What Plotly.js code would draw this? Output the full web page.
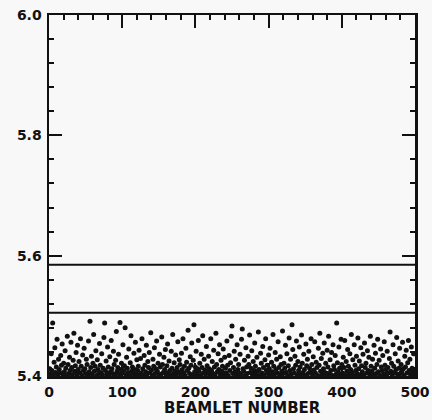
<!DOCTYPE html>
<html>
<head>
<meta charset="utf-8">
<script src="https://cdn.plot.ly/plotly-3.0.1.min.js"></script>
<style>
  html, body { margin: 0; padding: 0; background: #f8f8f8; }
  #chart { width: 432px; height: 420px; }
</style>
</head>
<body>
<div id="chart"></div>
<script>
// Measured value for each beamlet, in beamlet order (1..500)
const beamletValues = [
  5.412, 5.404, 5.437, 5.409, 5.488, 5.401, 5.423, 5.447, 5.406, 5.415, 5.461, 5.402, 5.428, 5.411, 5.405, 5.434, 5.418, 5.453, 5.403, 5.421,
  5.407, 5.442, 5.413, 5.401, 5.466, 5.419, 5.404, 5.431, 5.409, 5.456, 5.414, 5.402, 5.426, 5.471, 5.408, 5.417, 5.439, 5.403, 5.451, 5.411,
  5.424, 5.405, 5.462, 5.416, 5.401, 5.435, 5.409, 5.446, 5.412, 5.404, 5.428, 5.419, 5.402, 5.458, 5.407, 5.491, 5.414, 5.433, 5.403, 5.421,
  5.469, 5.408, 5.416, 5.442, 5.401, 5.427, 5.411, 5.404, 5.454, 5.418, 5.406, 5.437, 5.402, 5.413, 5.464, 5.488, 5.409, 5.425, 5.403, 5.448,
  5.415, 5.401, 5.432, 5.407, 5.459, 5.412, 5.404, 5.441, 5.419, 5.402, 5.426, 5.474, 5.408, 5.414, 5.436, 5.403, 5.489, 5.411, 5.421, 5.405,
  5.452, 5.409, 5.417, 5.480, 5.402, 5.431, 5.413, 5.406, 5.445, 5.401, 5.422, 5.467, 5.408, 5.415, 5.404, 5.438, 5.411, 5.456, 5.403, 5.427,
  5.409, 5.416, 5.443, 5.402, 5.429, 5.405, 5.462, 5.412, 5.401, 5.434, 5.418, 5.407, 5.451, 5.403, 5.424, 5.414, 5.439, 5.406, 5.472, 5.410,
  5.401, 5.428, 5.416, 5.447, 5.404, 5.412, 5.458, 5.408, 5.421, 5.402, 5.436, 5.415, 5.403, 5.465, 5.419, 5.406, 5.431, 5.411, 5.444, 5.402,
  5.417, 5.453, 5.405, 5.425, 5.409, 5.401, 5.441, 5.413, 5.469, 5.404, 5.422, 5.408, 5.435, 5.402, 5.414, 5.457, 5.407, 5.427, 5.419, 5.403,
  5.438, 5.411, 5.462, 5.405, 5.416, 5.401, 5.446, 5.423, 5.409, 5.476, 5.413, 5.404, 5.432, 5.418, 5.455, 5.402, 5.426, 5.485, 5.407, 5.415,
  5.441, 5.403, 5.412, 5.459, 5.408, 5.421, 5.401, 5.436, 5.414, 5.467, 5.405, 5.428, 5.410, 5.403, 5.449, 5.417, 5.406, 5.433, 5.412, 5.402,
  5.462, 5.409, 5.424, 5.404, 5.443, 5.415, 5.401, 5.471, 5.419, 5.407, 5.437, 5.411, 5.452, 5.403, 5.426, 5.408, 5.416, 5.445, 5.402, 5.431,
  5.413, 5.405, 5.458, 5.418, 5.401, 5.434, 5.409, 5.422, 5.466, 5.483, 5.404, 5.414, 5.441, 5.407, 5.428, 5.402, 5.452, 5.411, 5.419, 5.405,
  5.436, 5.403, 5.461, 5.478, 5.412, 5.408, 5.426, 5.401, 5.447, 5.415, 5.404, 5.433, 5.419, 5.468, 5.406, 5.413, 5.442, 5.402, 5.424, 5.409,
  5.455, 5.416, 5.403, 5.431, 5.408, 5.473, 5.411, 5.401, 5.438, 5.421, 5.405, 5.449, 5.414, 5.402, 5.427, 5.462, 5.409, 5.418, 5.404, 5.435,
  5.412, 5.446, 5.401, 5.423, 5.407, 5.469, 5.416, 5.403, 5.439, 5.411, 5.428, 5.405, 5.457, 5.414, 5.402, 5.432, 5.419, 5.408, 5.475, 5.404,
  5.421, 5.413, 5.451, 5.406, 5.437, 5.401, 5.417, 5.463, 5.409, 5.428, 5.403, 5.485, 5.444, 5.412, 5.405, 5.433, 5.418, 5.458, 5.402, 5.424,
  5.409, 5.448, 5.415, 5.403, 5.468, 5.421, 5.406, 5.436, 5.411, 5.401, 5.453, 5.417, 5.428, 5.404, 5.441, 5.413, 5.407, 5.462, 5.419, 5.402,
  5.432, 5.410, 5.457, 5.405, 5.423, 5.414, 5.401, 5.446, 5.418, 5.471, 5.408, 5.429, 5.403, 5.438, 5.412, 5.455, 5.406, 5.421, 5.402, 5.443,
  5.415, 5.466, 5.404, 5.427, 5.409, 5.439, 5.401, 5.452, 5.417, 5.411, 5.434, 5.403, 5.488, 5.422, 5.407, 5.448, 5.413, 5.402, 5.461, 5.419,
  5.405, 5.431, 5.414, 5.459, 5.401, 5.424, 5.408, 5.444, 5.416, 5.403, 5.437, 5.411, 5.469, 5.406, 5.427, 5.401, 5.452, 5.418, 5.409, 5.433,
  5.404, 5.463, 5.412, 5.425, 5.402, 5.447, 5.417, 5.407, 5.436, 5.401, 5.455, 5.414, 5.421, 5.405, 5.442, 5.409, 5.431, 5.403, 5.466, 5.416,
  5.408, 5.428, 5.402, 5.451, 5.413, 5.438, 5.404, 5.419, 5.461, 5.407, 5.426, 5.401, 5.445, 5.415, 5.409, 5.434, 5.403, 5.457, 5.418, 5.411,
  5.401, 5.441, 5.414, 5.405, 5.429, 5.473, 5.408, 5.421, 5.402, 5.452, 5.416, 5.406, 5.437, 5.411, 5.464, 5.403, 5.425, 5.413, 5.446, 5.404,
  5.419, 5.407, 5.456, 5.412, 5.401, 5.433, 5.415, 5.443, 5.405, 5.422, 5.459, 5.409, 5.428, 5.402, 5.448, 5.413, 5.406, 5.437, 5.411, 5.403
];

// Horizontal reference levels
const referenceLevels = [5.585, 5.505];
const beamletRange = [0, 500];

const xTickValues = [0, 100, 200, 300, 400, 500];
const xTickLabels = ['0', '100', '200', '300', '400', '500'];
const yTickValues = [5.4, 5.6, 5.8, 6.0];
const yTickLabels = ['5.4', '5.6', '5.8', '6.0'];

const beamletNumbers = beamletValues.map((_, i) => i + 1);

const ink = '#111111';
const tickFont = { family: 'DejaVu Sans', size: 14, color: ink, weight: 'bold' };

const traces = referenceLevels.map(level => ({
  type: 'scatter',
  mode: 'lines',
  x: beamletRange,
  y: [level, level],
  line: { color: ink, width: 2 },
  hoverinfo: 'skip',
  showlegend: false
}));

traces.push({
  type: 'scatter',
  mode: 'markers',
  x: beamletNumbers,
  y: beamletValues,
  marker: { color: ink, size: 5, line: { width: 0 } },
  cliponaxis: true,
  showlegend: false
});

const layout = {
  width: 432,
  height: 420,
  margin: { l: 49, r: 17, t: 15, b: 44 },
  paper_bgcolor: '#f8f8f8',
  plot_bgcolor: '#f8f8f8',
  showlegend: false,
  xaxis: {
    range: beamletRange,
    tickmode: 'array',
    tickvals: xTickValues,
    ticktext: xTickLabels,
    ticks: 'inside',
    ticklen: 13,
    tickwidth: 2,
    tickcolor: ink,
    minor: { dtick: 20, ticks: 'inside', ticklen: 5, tickwidth: 2, tickcolor: ink },
    showline: true,
    linecolor: ink,
    linewidth: 2.5,
    mirror: 'ticks',
    showgrid: false,
    zeroline: false,
    tickfont: tickFont,
    ticklabelstandoff: 2
  },
  yaxis: {
    range: [5.4, 6.0],
    tickmode: 'array',
    tickvals: yTickValues,
    ticktext: yTickLabels,
    ticks: 'inside',
    ticklen: 13,
    tickwidth: 2,
    tickcolor: ink,
    minor: { dtick: 0.04, tick0: 5.4, ticks: 'inside', ticklen: 5, tickwidth: 2, tickcolor: ink },
    showline: true,
    linecolor: ink,
    linewidth: 2.5,
    mirror: 'ticks',
    showgrid: false,
    zeroline: false,
    tickfont: tickFont,
    ticklabelstandoff: 2
  },
  annotations: [{
    text: 'BEAMLET NUMBER',
    xref: 'paper', yref: 'paper',
    x: 0.53, y: -0.089,
    xanchor: 'center', yanchor: 'middle',
    showarrow: false,
    font: { family: 'DejaVu Sans', size: 15, color: ink, weight: 'bold' }
  }]
};

Plotly.newPlot('chart', traces, layout, { staticPlot: true, displayModeBar: false });
</script>
</body>
</html>
